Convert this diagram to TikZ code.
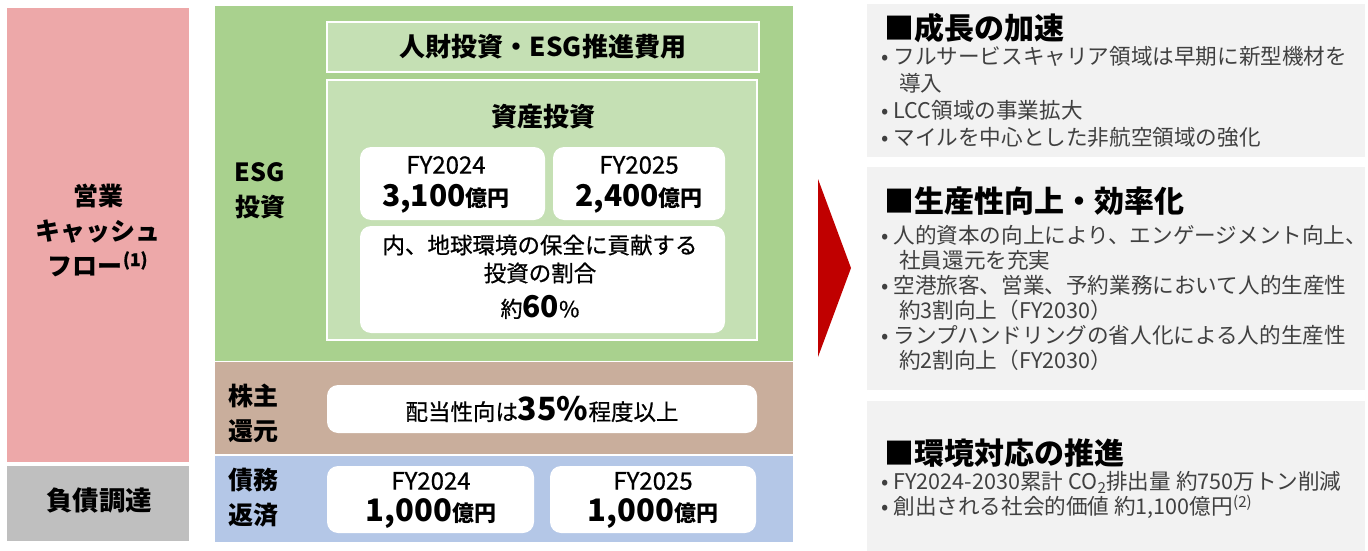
\documentclass[tikz,border=0pt]{standalone}
\usepackage{fontspec}
\setmainfont{Noto Sans CJK JP}
\newfontfamily\medfont[FakeBold=0.7]{Noto Sans CJK JP}
\definecolor{pinkc}{HTML}{EDA8A9}
\definecolor{grayc}{HTML}{BFBFBF}
\definecolor{greenc}{HTML}{A9D18E}
\definecolor{lgreenc}{HTML}{C5E0B4}
\definecolor{brownc}{HTML}{C9AE9C}
\definecolor{bluec}{HTML}{B4C7E7}
\definecolor{redc}{HTML}{C00000}
\definecolor{panelc}{HTML}{F2F2F2}
\definecolor{bulc}{HTML}{404040}
\newcommand{\fs}[1]{\fontsize{#1}{#1}\selectfont}
\newcommand{\bu}{•\hspace{5pt}}
\newcommand{\ind}{\hspace*{18pt}}
\begin{document}
\begin{tikzpicture}[x=1pt,y=-1pt,
  blk/.style={draw=none,inner sep=0pt,outer sep=0pt,anchor=north west},
  sub/.style={blk,fill=lgreenc,draw=white,line width=1.5pt},
  wbox/.style={blk,fill=white,rounded corners=11pt},
  panel/.style={blk,fill=panelc},
  lbl/.style={align=center,font=\fontsize{25}{35}\selectfont\bfseries,inner sep=0pt},
  txt/.style={align=center,inner sep=0pt},
  head/.style={anchor=west,inner sep=0pt,font=\fontsize{30}{30}\selectfont\bfseries},
  bul/.style={anchor=north west,inner sep=0pt,align=left,text=bulc}
]
\useasboundingbox (0,0) rectangle (1368,551);
% left column
\node[blk,fill=pinkc,minimum width=182pt,minimum height=454pt] (cf) at (7,8) {};
\node[blk,fill=grayc,minimum width=182pt,minimum height=75pt] (debt) at (7,466) {};
\node[lbl] (cft) at (98,230) {営業\\キャッシュ\\フロー\textsuperscript{\medfont(1)}};
\node[lbl,font=\fontsize{26.5}{30}\selectfont\bfseries] (debtt) at (99,501) {負債調達};
% green band
\node[blk,fill=greenc,minimum width=578pt,minimum height=355pt] (esg) at (215,6) {};
\node[lbl] (esgt) at (260,191) {ESG\\投資};
\node[sub,minimum width=432pt,minimum height=50pt] (hr) at (327,22) {};
\node[txt,font=\fontsize{26}{26}\selectfont\bfseries] (hrt) at (hr.center) {人財投資・ESG推進費用};
\node[sub,minimum width=430pt,minimum height=260pt] (asset) at (327,80) {};
\node[txt,font=\fontsize{26}{26}\selectfont\bfseries] (assett) at (543,117) {資産投資};
\node[wbox,minimum width=185pt,minimum height=73pt] (a24) at (360,147) {};
\node[wbox,minimum width=172pt,minimum height=73pt] (a25) at (553,147) {};
\node[wbox,minimum width=365pt,minimum height=107pt] (env) at (360,226) {};
\node[txt,font=\medfont\fontsize{24}{24}\selectfont] (a24y) at (446,165) {FY2024};
\node[txt,font=\bfseries] (a24v) at (446,199) {\fs{30}3,100\fs{22}億円};
\node[txt,font=\medfont\fontsize{24}{24}\selectfont] (a25y) at (639,165) {FY2025};
\node[txt,font=\bfseries] (a25v) at (639,199) {\fs{30}2,400\fs{22}億円};
\node[txt,font=\medfont\fontsize{22.5}{28}\selectfont] (envt) at (540,259) {内、地球環境の保全に貢献する\\投資の割合};
\node[txt] (envv) at (540,307) {{\medfont\fs{22}約}{\bfseries\fs{30}60}{\medfont\fs{22}\%}};
% brown band
\node[blk,fill=brownc,minimum width=578pt,minimum height=92pt] (sh) at (215,362) {};
\node[lbl] (sht) at (253,413) {株主\\還元};
\node[wbox,minimum width=430pt,minimum height=48pt] (div) at (327,385) {};
\node[txt] (divt) at (div.center) {{\medfont\fs{22.5}配当性向は}{\bfseries\fs{32}35\%}{\medfont\fs{22.5}程度以上}};
% blue band
\node[blk,fill=bluec,minimum width=578pt,minimum height=86pt] (rep) at (215,456) {};
\node[lbl] (rept) at (253,498) {債務\\返済};
\node[wbox,minimum width=207pt,minimum height=67pt] (r24) at (327,466) {};
\node[wbox,minimum width=206pt,minimum height=67pt] (r25) at (550,466) {};
\node[txt,font=\medfont\fontsize{24}{24}\selectfont] (r24y) at (431,481) {FY2024};
\node[txt,font=\bfseries] (r24v) at (431,514) {\fs{31}1,000\fs{22}億円};
\node[txt,font=\medfont\fontsize{24}{24}\selectfont] (r25y) at (653,481) {FY2025};
\node[txt,font=\bfseries] (r25v) at (653,514) {\fs{31}1,000\fs{22}億円};
% arrow
\fill[redc] (818,179) -- (851,268) -- (818,357) -- cycle;
% right panels
\node[panel,minimum width=498pt,minimum height=153pt] (p1) at (867,4) {};
\node[panel,minimum width=498pt,minimum height=223pt] (p2) at (867,167) {};
\node[panel,minimum width=498pt,minimum height=150pt] (p3) at (867,401) {};
\node[head] (h1) at (884,28) {■成長の加速};
\node[bul,font=\fontsize{21.6}{27}\selectfont] (b1) at (881,46) {\bu フルサービスキャリア領域は早期に新型機材を\\\ind 導入\\\bu LCC領域の事業拡大\\\bu マイルを中心とした非航空領域の強化};
\node[head] (h2) at (884,201) {■生産性向上・効率化};
\node[bul,font=\fontsize{21.6}{25}\selectfont] (b2) at (881,225) {\bu 人的資本の向上により、エンゲージメント向上、\\\ind 社員還元を充実\\\bu 空港旅客、営業、予約業務において人的生産性\\\ind 約3割向上（FY2030）\\\bu ランプハンドリングの省人化による人的生産性\\\ind 約2割向上（FY2030）};
\node[head] (h3) at (884,453) {■環境対応の推進};
\node[bul,font=\fontsize{21.6}{25.5}\selectfont] (b3) at (881,471) {\bu FY2024-2030累計 CO\textsubscript{2}排出量 約750万トン削減\\\bu 創出される社会的価値 約1,100億円\textsuperscript{(2)}};
\end{tikzpicture}
\end{document}
